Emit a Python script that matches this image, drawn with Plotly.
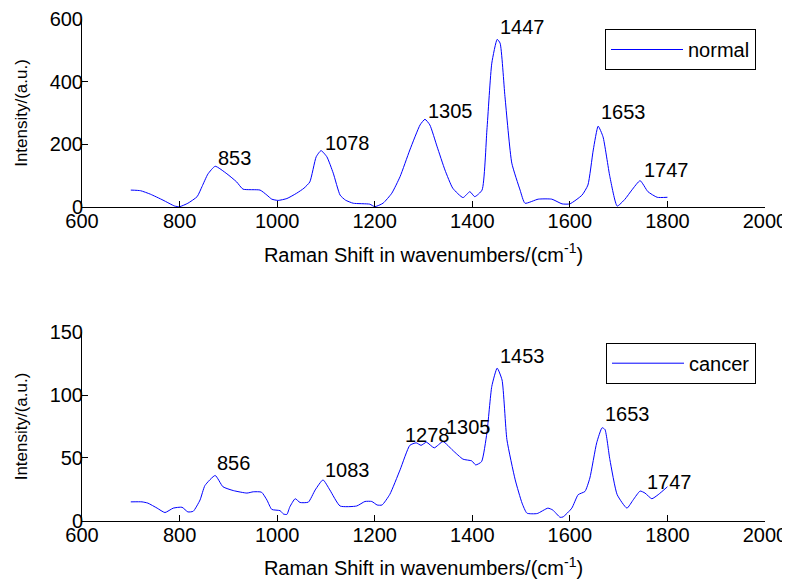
import plotly.graph_objects as go

# ---- data ----
normal_x = [700, 720, 740, 766, 790, 800, 817, 836, 846, 858, 873, 897, 917, 930, 965, 979, 989,
            1002, 1020, 1040, 1055, 1067, 1080, 1090, 1102, 1115, 1129, 1140, 1156, 1190, 1200,
            1217, 1235, 1252, 1272, 1293, 1303, 1313, 1328, 1344, 1360, 1381, 1395, 1405, 1420,
            1430, 1440, 1451, 1457, 1467, 1481, 1498, 1508, 1535, 1563, 1584, 1600, 1625, 1637,
            1648, 1658, 1668, 1682, 1697, 1713, 1727, 1744, 1760, 1779, 1800]
normal_y = [54, 52, 41, 22, 3, 1, 12, 33, 65, 105, 130, 106, 80, 57, 54, 38, 25,
            21, 27, 44, 60, 80, 160, 180, 160, 108, 38, 22, 12, 9, 1,
            12, 44, 97, 182, 262, 280, 262, 192, 118, 60, 30, 49, 33, 54,
            246, 459, 535, 523, 352, 140, 54, 12, 25, 25, 10, 10, 38, 70,
            182, 258, 224, 97, 3, 25, 54, 84, 49, 31, 31]

cancer_x = [700, 723, 735, 754, 770, 787, 805, 817, 828, 842, 852, 873, 889, 910, 938, 951, 968,
            979, 989, 1006, 1013, 1020, 1026, 1037, 1047, 1064, 1078, 1094, 1108, 1129, 1163,
            1180, 1194, 1205, 1215, 1231, 1252, 1272, 1285, 1295, 1306, 1322, 1340, 1360, 1381,
            1399, 1407, 1419, 1430, 1440, 1451, 1461, 1471, 1488, 1502, 1512, 1533, 1555, 1565,
            1580, 1586, 1604, 1617, 1631, 1641, 1655, 1666, 1672, 1682, 1697, 1717, 1730, 1744,
            1754, 1768, 1781, 1800]
cancer_y = [15, 15, 14, 10, 6.5, 10, 10.7, 7, 7.5, 16.5, 28, 36, 27, 24, 22, 23, 22.7,
            16.5, 9, 8, 5.3, 5, 11, 17.5, 14.5, 14.8, 24.5, 32.5, 24.5, 11.7, 11.7,
            15.3, 15.3, 12.5, 12.5, 21, 40.5, 60, 62, 60, 62.5, 58, 63, 56, 49,
            47.6, 44.4, 47, 70, 107, 121.5, 112, 64.5, 32.5, 14, 6, 5.7, 10, 8.5,
            2.7, 3, 10, 20.7, 23.3, 34, 62, 74, 72.6, 48.7, 20.7, 10, 16.7, 23.6,
            22, 17.5, 20.7, 27]

normal_labels = ["853", "1078", "1305", "1447", "1653", "1747"]
normal_label_x = [874, 1094, 1305, 1453, 1660, 1748]
normal_label_y = [156, 204, 306, 575, 303, 118]

cancer_labels = ["856", "1083", "1278", "1305", "1453", "1653", "1747"]
cancer_label_x = [873, 1094, 1258, 1342, 1453, 1668, 1754]
cancer_label_y = [46, 40.5, 68.5, 75, 131, 85, 31]

x_ticks = [600, 800, 1000, 1200, 1400, 1600, 1800, 2000]

# ---- figure ----
W, H = 790, 584
OFF = 8  # page body margin
FONT = "Liberation Sans, Arial, sans-serif"
FS = 20
BLUE = "rgb(0,0,255)"

fig = go.Figure()
fig.add_trace(go.Scatter(x=normal_x, y=normal_y, mode="lines", name="normal",
                         line=dict(color=BLUE, width=1, shape="spline", smoothing=0.5),
                         xaxis="x", yaxis="y", legend="legend"))
fig.add_trace(go.Scatter(x=cancer_x, y=cancer_y, mode="lines", name="cancer",
                         line=dict(color=BLUE, width=1, shape="spline", smoothing=0.5),
                         xaxis="x2", yaxis="y2", legend="legend2"))

xdom = [(82 - OFF) / W, (765 - OFF) / W]
ydom1 = [1 - (207 - OFF) / H, 1 - (19 - OFF) / H]
ydom2 = [1 - (520.7 - OFF) / H, 1 - (332.3 - OFF) / H]

axis_common = dict(showline=True, linecolor="black", linewidth=1, ticks="inside",
                   ticklen=6, tickcolor="black", showgrid=False, zeroline=False,
                   mirror=False, tickfont=dict(family=FONT, size=FS, color="black"),
                   automargin=False)

xtitle = "Raman Shift in wavenumbers/(cm<sup>-1</sup>)"
ytitle = "Intensity/(a.u.)"
xt = dict(text=xtitle, font=dict(family=FONT, size=FS, color="black"), standoff=16)
yt = dict(text=ytitle, font=dict(family=FONT, size=17, color="black"), standoff=17)

leg_common = dict(xanchor="right", yanchor="top", bordercolor="black", borderwidth=1,
                  bgcolor="white", font=dict(family=FONT, size=FS, color="black"),
                  itemwidth=72, entrywidth=166)

fig.update_layout(
    width=W, height=H, margin=dict(l=0, r=0, t=0, b=0),
    paper_bgcolor="white", plot_bgcolor="white",
    font=dict(family=FONT, size=FS, color="black"),
    xaxis=dict(domain=xdom, range=[600, 2000], tickvals=x_ticks, anchor="y",
               title=xt, ticklabelstandoff=-4, **axis_common),
    yaxis=dict(domain=ydom1, range=[0, 600], dtick=200, anchor="x",
               title=yt, ticklabelstandoff=-6, **axis_common),
    xaxis2=dict(domain=xdom, range=[600, 2000], tickvals=x_ticks, anchor="y2",
                title=xt, ticklabelstandoff=-4, **axis_common),
    yaxis2=dict(domain=ydom2, range=[0, 150], dtick=50, anchor="x2",
                title=yt, ticklabelstandoff=-6, **axis_common),
    legend=dict(x=(756 - OFF) / W, y=1 - (29 - OFF) / H, **leg_common),
    legend2=dict(x=(756 - OFF) / W, y=1 - (342.7 - OFF) / H, **leg_common),
    showlegend=True,
)

annotations = []
for t, lx, ly in zip(normal_labels, normal_label_x, normal_label_y):
    annotations.append(dict(text=t, x=lx, y=ly, xref="x", yref="y", showarrow=False,
                            xanchor="left", yanchor="middle",
                            font=dict(family=FONT, size=FS, color="black")))
for t, lx, ly in zip(cancer_labels, cancer_label_x, cancer_label_y):
    annotations.append(dict(text=t, x=lx, y=ly, xref="x2", yref="y2", showarrow=False,
                            xanchor="left", yanchor="middle",
                            font=dict(family=FONT, size=FS, color="black")))
fig.update_layout(annotations=annotations)

fig.write_html("out.html")
